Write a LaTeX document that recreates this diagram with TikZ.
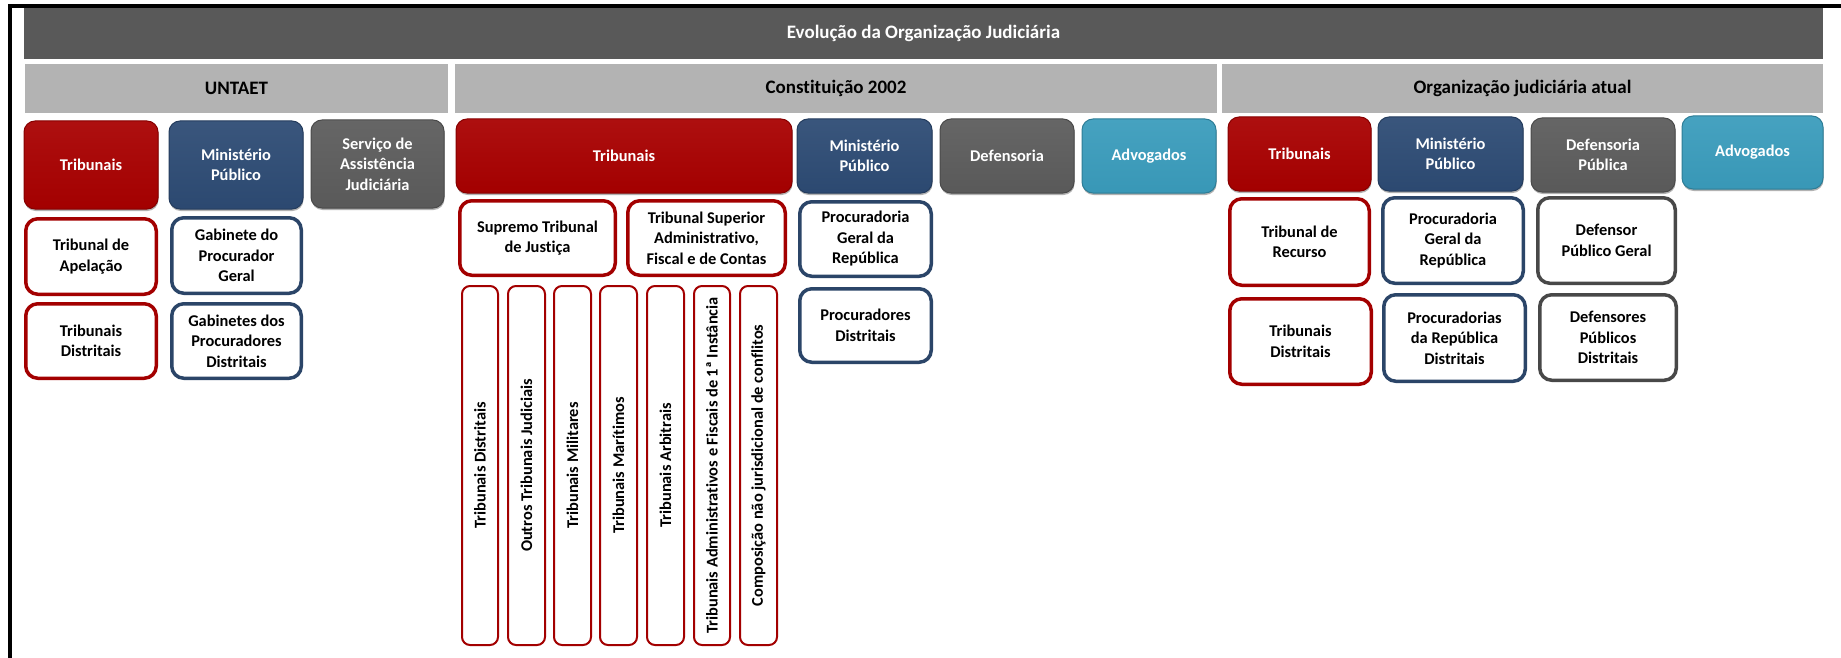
\documentclass[tikz,border=0pt]{standalone}
\usepackage{fontspec}
\setmainfont{Carlito}[Ligatures=NoCommon]
\usetikzlibrary{shadows}
\definecolor{titlegray}{HTML}{595959}
\definecolor{hdrgray}{HTML}{B3B3B3}
\definecolor{cred}{HTML}{A80000}
\definecolor{cblue}{HTML}{2D4B74}
\definecolor{cgray}{HTML}{5C5C5C}
\definecolor{cteal}{HTML}{3A9CBC}
\definecolor{lred}{HTML}{A30000}
\definecolor{lblue}{HTML}{2B4568}
\definecolor{lgray}{HTML}{484848}
\newcommand\mkbox[7]{\node[#1, minimum width={(#4-#2)*1pt}, minimum height={(#5-#3)*1pt}] (#6) at ({(#2+#4)/2},{(#3+#5)/2}) {#7};}
\newcommand\mkobox[7]{\node[#1, minimum width={(#4-#2-3.5)*1pt}, minimum height={(#5-#3-3.5)*1pt}] (#6) at ({(#2+#4)/2},{(#3+#5)/2}) {#7};}
\newcommand\mkvbox[6]{\node[vbox, minimum width={(#5-#3-2)*1pt}, minimum height={(#4-#2-2)*1pt}] (#1) at ({(#2+#4)/2},{(#3+#5)/2}) {#6};}
\begin{document}
\begin{tikzpicture}[x=1pt,y=-1pt,
  base/.style={inner sep=0pt, outer sep=0pt, align=center, font=\fontsize{16.4}{20.5}\selectfont\bfseries},
  titlebar/.style={base, fill=titlegray, text=white, font=\fontsize{19}{23}\selectfont\bfseries},
  hdrbar/.style={base, fill=hdrgray, text=black, font=\fontsize{19}{23}\selectfont\bfseries},
  filled/.style={base, rounded corners=11pt, text=white, top color=#1!94!white, bottom color=#1!97!black,
     draw=#1!80!black, line width=1pt,
     drop shadow={shadow xshift=0.5pt, shadow yshift=-2pt, opacity=0.3, fill=black}},
  fred/.style={filled=cred},
  fblue/.style={filled=cblue},
  fgray/.style={filled=cgray},
  fteal/.style={filled=cteal},
  outl/.style={base, rounded corners=12pt, draw=#1, line width=3.5pt, fill=white, text=black},
  ored/.style={outl=lred},
  oblue/.style={outl=lblue},
  ogray/.style={outl=lgray},
  vbox/.style={base, rounded corners=8pt, draw=lred, line width=2pt, fill=white, text=black, rotate=90}
]
\useasboundingbox (0,0) rectangle (1841,658);
\fill[white] (0,0) rectangle (1841,658);
% frame lines
\fill[black] (8,4) rectangle (1841,8);
\fill[black] (8,4) rectangle (12,658);
% title and headers
\mkbox{titlebar}{24}{8}{1823}{59}{title}{Evolução da Organização Judiciária}
\mkbox{hdrbar}{25}{64}{448}{113}{hU}{UNTAET}
\mkbox{hdrbar}{455}{64}{1217}{113}{hC}{Constituição 2002}
\mkbox{hdrbar}{1222}{64}{1823}{113}{hA}{Organização judiciária atual}
% UNTAET
\mkbox{fred}{24}{121}{158}{209}{uTrib}{Tribunais}
\mkbox{fblue}{169}{121}{303}{209}{uMP}{Ministério\\Público}
\mkbox{fgray}{311}{120}{444}{208}{uSAJ}{Serviço de\\Assistência\\Judiciária}
\mkobox{ored}{24}{217}{158}{296}{uTA}{Tribunal de\\Apelação}
\mkobox{oblue}{170}{216}{303}{295}{uGPG}{Gabinete do\\Procurador\\Geral}
\mkobox{ored}{24}{302}{158}{380}{uTD}{Tribunais\\Distritais}
\mkobox{oblue}{170}{302}{303}{380}{uGPD}{Gabinetes dos\\Procuradores\\Distritais}
% Constituicao 2002
\mkbox{fred}{456}{119}{792}{193}{cTrib}{Tribunais}
\mkbox{fblue}{797}{119}{932}{193}{cMP}{Ministério\\Público}
\mkbox{fgray}{940}{119}{1074}{193}{cDef}{Defensoria}
\mkbox{fteal}{1082}{119}{1216}{193}{cAdv}{Advogados}
\mkobox{ored}{458}{199}{617}{277}{cSTJ}{Supremo Tribunal\\de Justiça}
\mkobox{ored}{626}{199}{787}{277}{cTSA}{Tribunal Superior\\Administrativo,\\Fiscal e de Contas}
\mkobox{oblue}{798}{200}{933}{278}{cPGR}{Procuradoria\\Geral da\\República}
\mkobox{oblue}{798}{287}{933}{364}{cPD}{Procuradores\\Distritais}
\mkvbox{v1}{461}{285}{499}{646}{Tribunais Distritais}
\mkvbox{v2}{507}{285}{546}{646}{Outros Tribunais Judiciais}
\mkvbox{v3}{553}{285}{592}{646}{Tribunais Militares}
\mkvbox{v4}{599}{285}{638}{646}{Tribunais Marítimos}
\mkvbox{v5}{646}{285}{685}{646}{Tribunais Arbitrais}
\mkvbox{v6}{693}{285}{731}{646}{Tribunais Administrativos e Fiscais de 1ª Instância}
\mkvbox{v7}{739}{285}{778}{646}{Composição não jurisdicional de conflitos}
% Atual
\mkbox{fred}{1228}{117}{1371}{191}{aTrib}{Tribunais}
\mkbox{fblue}{1378}{117}{1523}{191}{aMP}{Ministério\\Público}
\mkbox{fgray}{1531}{118}{1675}{192}{aDef}{Defensoria\\Pública}
\mkbox{fteal}{1682}{116}{1823}{189}{aAdv}{Advogados}
\mkobox{ored}{1228}{197}{1371}{287}{aTR}{Tribunal de\\Recurso}
\mkobox{oblue}{1381}{196}{1525}{285}{aPGR}{Procuradoria\\Geral da\\República}
\mkobox{ogray}{1536}{196}{1677}{285}{aDPG}{Defensor\\Público Geral}
\mkobox{ored}{1228}{297}{1373}{386}{aTD}{Tribunais\\Distritais}
\mkobox{oblue}{1382}{293}{1527}{383}{aPRD}{Procuradorias\\da República\\Distritais}
\mkobox{ogray}{1538}{293}{1678}{382}{aDPD}{Defensores\\Públicos\\Distritais}
\end{tikzpicture}
\end{document}
